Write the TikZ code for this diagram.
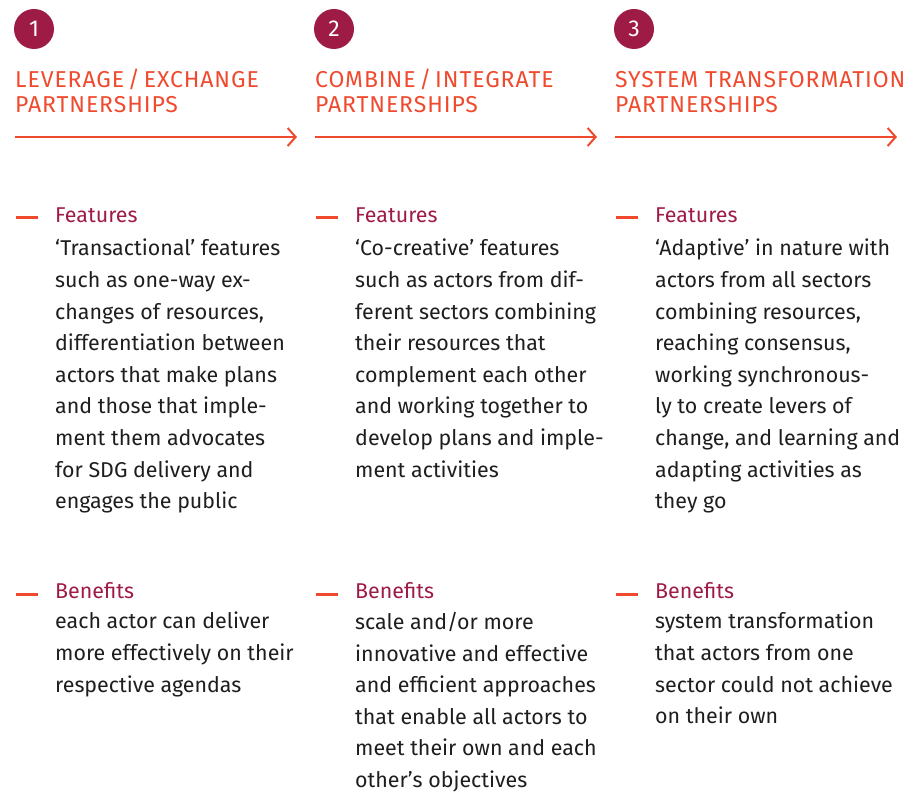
\documentclass[tikz,border=0pt]{standalone}
\usepackage{fontspec}
\setmainfont{Fira Sans}
\newfontfamily\capsfont[LetterSpace=4]{Fira Sans}
\definecolor{flame}{HTML}{F04A2E}
\definecolor{wine}{HTML}{9E1B45}
\definecolor{ink}{HTML}{1E1E1E}
\usetikzlibrary{arrows.meta}
\tikzset{
  numdot/.style={circle,fill=wine,text=white,minimum size=40pt,inner sep=0pt,font=\fontsize{23}{23}\selectfont},
  headtext/.style={anchor=base west,inner sep=0pt,text=flame,font=\capsfont\fontsize{23}{25}\selectfont},
  flow/.style={flame,line width=2pt,-{Straight Barb[length=8pt,width=18pt,line width=2pt]}},
  tick/.style={flame,line width=3pt},
  label/.style={anchor=base west,inner sep=0pt,text=wine,font=\fontsize{21.4}{32}\selectfont},
  body/.style={anchor=north west,inner sep=0pt,align=left,text=ink,font=\fontsize{21.4}{31.6}\selectfont}
}
\begin{document}
\begin{tikzpicture}[x=1pt,y=-1pt]
  \useasboundingbox (0,0) rectangle (908,794);
  \def\featy{223}
  \def\beny{598}

  \foreach \n/\col/\hA/\hB in {1/0/{LEVERAGE\,/\,EXCHANGE}/PARTNERSHIPS,
                               2/300/{COMBINE\,/\,INTEGRATE}/PARTNERSHIPS,
                               3/600/{SYSTEM TRANSFORMATION}/PARTNERSHIPS} {
    \node[numdot] (num\n) at (\col+34,29) {\n};
    \node[headtext] (heada\n) at (\col+15,88) {\hA};
    \node[headtext] (headb\n) at (\col+15,113) {\hB};
    \coordinate (from\n) at (\col+15,137);
    \coordinate (to\n) at (\col+297,137);
    \draw[flow] (from\n) -- (to\n);
    \coordinate (fa\n) at (\col+16,\featy-5);
    \coordinate (fb\n) at (\col+38,\featy-5);
    \draw[tick] (fa\n) -- (fb\n);
    \node[label] (feat\n) at (\col+55,\featy) {Features};
    \coordinate (ba\n) at (\col+16,\beny-4);
    \coordinate (bb\n) at (\col+38,\beny-4);
    \draw[tick] (ba\n) -- (bb\n);
    \node[label] (ben\n) at (\col+55,\beny) {Benefits};
  }

  \node[body] (ftext1) at (55,239) {`Transactional' features\\such as one-way ex-\\changes of resources,\\differentiation between\\actors that make plans\\and those that imple-\\ment them advocates\\for SDG delivery and\\engages the public};
  \node[body] (ftext2) at (355,239) {`Co-creative' features\\such as actors from dif-\\ferent sectors combining\\their resources that\\complement each other\\and working together to\\develop plans and imple-\\ment activities};
  \node[body] (ftext3) at (655,239) {`Adaptive' in nature with\\actors from all sectors\\combining resources,\\reaching consensus,\\working synchronous-\\ly to create levers of\\change, and learning and\\adapting activities as\\they go};

  \node[body] (btext1) at (55,612) {each actor can deliver\\more effectively on their\\respective agendas};
  \node[body] (btext2) at (355,612) {scale and/or more\\innovative and effective\\and efficient approaches\\that enable all actors to\\meet their own and each\\other's objectives};
  \node[body] (btext3) at (655,612) {system transformation\\that actors from one\\sector could not achieve\\on their own};
\end{tikzpicture}
\end{document}
